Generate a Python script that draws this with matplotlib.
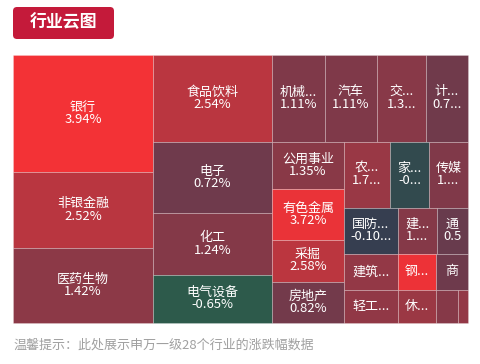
import matplotlib
matplotlib.use('Agg')
import matplotlib.pyplot as plt
from matplotlib.colors import LinearSegmentedColormap, Normalize
from matplotlib.patches import Rectangle, FancyBboxPatch

plt.rcParams['font.family'] = ['Noto Sans CJK SC', 'DejaVu Sans']

# 申万一级行业 涨跌幅 (%) and block weights
names = ['银行', '非银金融', '医药生物',
         '食品饮料', '电子', '化工', '电气设备',
         '机械设备', '汽车', '交通运输', '计算机',
         '公用事业', '有色金属', '采掘', '房地产',
         '农林牧渔', '家用电器', '传媒',
         '国防军工', '建筑装饰', '轻工制造',
         '建筑材料', '通信',
         '钢铁', '休闲服务',
         '商业贸易',
         '纺织服装', '综合']
pct = [3.94, 2.52, 1.42,
       2.54, 0.72, 1.24, -0.65,
       1.11, 1.11, 1.32, 0.74,
       1.35, 3.72, 2.58, 0.82,
       1.75, -0.35, 1.15,
       -0.10, 1.60, 1.55,
       1.25, 0.55,
       3.80, 1.80,
       0.70,
       1.30, 1.60]
weights = [16380, 10640, 10500,
           10353, 8449, 7378, 5712,
           4611, 4524, 4263, 3654,
           3384, 3672, 3024, 2952,
           3036, 2574, 2574,
           2484, 1944, 1782,
           1794, 1426,
           1368, 1254,
           1152,
           726, 330]
# strip structure of the treemap: (direction, number of blocks)
strips = [('col', 3), ('col', 4), ('row', 4), ('col', 4), ('row', 3),
          ('col', 3), ('row', 2), ('col', 2), ('row', 1), ('row', 2)]

FS = 9.4
fig = plt.figure(figsize=(4.81, 3.64), dpi=100)
ax = fig.add_axes([0, 0, 1, 1])
ax.set_xlim(0, 481)
ax.set_ylim(364, 0)
ax.axis('off')

cmap = LinearSegmentedColormap.from_list('updown', [
    (0.0, '#2c5c4b'), (0.6 / 4.7, '#363d50'), (1.2 / 4.7, '#663b4d'), (1.0, '#f53236')])
norm = Normalize(-0.7, 4.0)

# treemap layout
x0, y0, W, H = 13, 55, 455, 268
scale = W * H / sum(weights)
rects = []
i = 0
for d, n in strips:
    ws = [v * scale for v in weights[i:i + n]]
    s = sum(ws)
    if d == 'col':
        cw = s / H
        yy = y0
        for v in ws:
            rects.append((x0, yy, cw, v / cw))
            yy += v / cw
        x0 += cw
        W -= cw
    else:
        rh = s / W
        xx = x0
        for v in ws:
            rects.append((xx, y0, v / rh, rh))
            xx += v / rh
        y0 += rh
        H -= rh
    i += n

renderer = fig.canvas.get_renderer()


def text_w(s):
    t = ax.text(0, 0, s, fontsize=FS)
    w = t.get_window_extent(renderer).width
    t.remove()
    return w


def fit(s, avail):
    if text_w(s) <= avail:
        return s
    for k in range(len(s) - 1, 0, -1):
        if text_w(s[:k]) <= avail - text_w('...'):
            return s[:k] + '...'
    for k in range(len(s) - 1, 0, -1):
        if text_w(s[:k]) <= avail:
            return s[:k]
    return ''


for (x, y, w, h), nm, v in zip(rects, names, pct):
    ax.add_patch(Rectangle((x, y), w, h, facecolor=cmap(norm(v)),
                           edgecolor=(1, 1, 1, 0.25), lw=0.6))
    avail = w - 12.6
    cx, cy = x + w / 2, y + h / 2
    lab = fit(nm, avail)
    if h < 40:
        ax.text(cx, cy, lab, fontsize=FS, color='white', ha='center', va='center')
    else:
        val = fit(f'{v:.2f}%', avail)
        ax.text(cx, cy - 6.5, lab, fontsize=FS, color='white', ha='center', va='center')
        ax.text(cx, cy + 6, val, fontsize=FS, color='white', ha='center', va='center')

# title tag
ax.add_patch(FancyBboxPatch((13, 7), 101, 32, boxstyle='round,pad=0,rounding_size=4',
                            facecolor='#c41a3a', edgecolor='none'))
ax.text(63.5, 23, '行业云图', fontsize=12.2, color='white', fontweight='bold',
        ha='center', va='center')

ax.text(13, 345, '温馨提示：此处展示申万一级28个行业的涨跌幅数据', fontsize=9.4,
        color='#a0a0a0', ha='left', va='center')

fig.savefig('out.png', dpi=100)
